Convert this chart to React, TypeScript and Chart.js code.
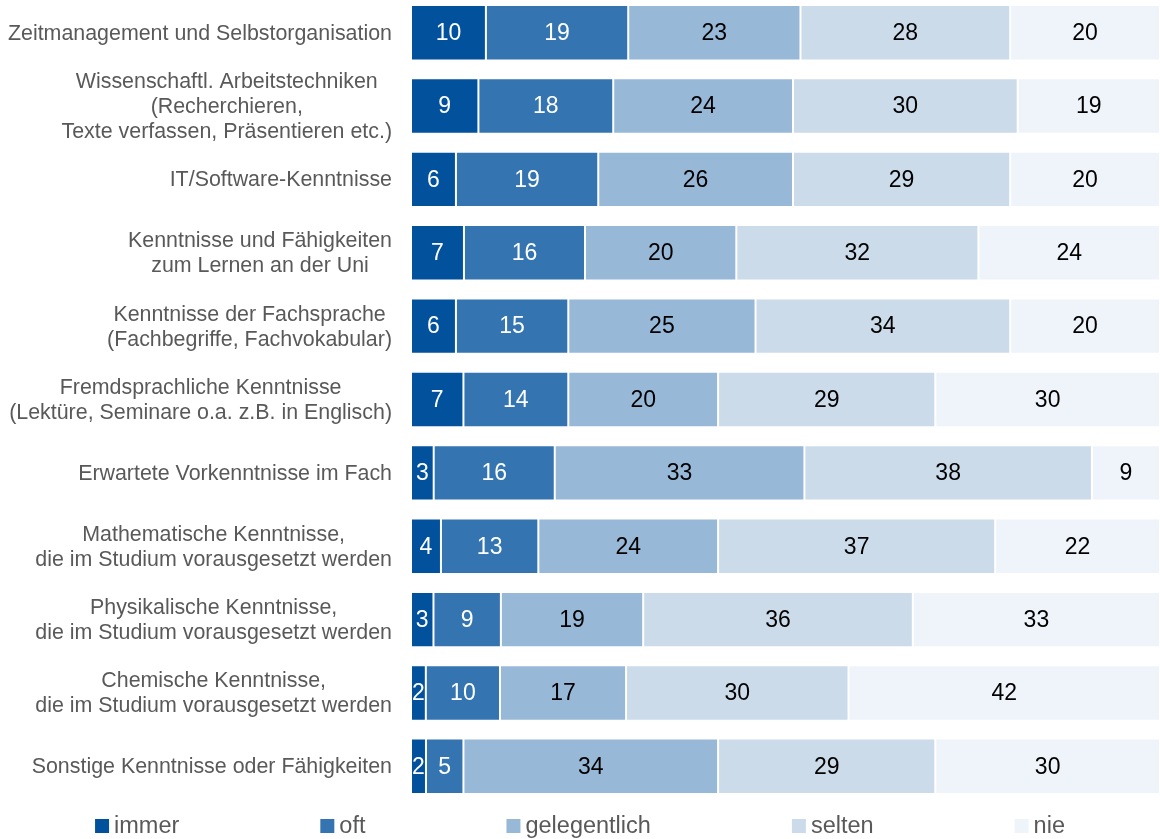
import React, { useEffect, useRef } from 'react';
import { Chart, registerables } from 'chart.js';

Chart.register(...registerables);

const FONT = '"Liberation Sans", Arial, Helvetica, sans-serif';

const categories: string[][] = [
  ['Zeitmanagement und Selbstorganisation'],
  ['Wissenschaftl. Arbeitstechniken', '(Recherchieren,', 'Texte verfassen, Präsentieren etc.)'],
  ['IT/Software-Kenntnisse'],
  ['Kenntnisse und Fähigkeiten', 'zum Lernen an der Uni'],
  ['Kenntnisse der Fachsprache', '(Fachbegriffe, Fachvokabular)'],
  ['Fremdsprachliche Kenntnisse', '(Lektüre, Seminare o.a. z.B. in Englisch)'],
  ['Erwartete Vorkenntnisse im Fach'],
  ['Mathematische Kenntnisse,', 'die im Studium vorausgesetzt werden'],
  ['Physikalische Kenntnisse,', 'die im Studium vorausgesetzt werden'],
  ['Chemische Kenntnisse,', 'die im Studium vorausgesetzt werden'],
  ['Sonstige Kenntnisse oder Fähigkeiten'],
];

const seriesNames = ['immer', 'oft', 'gelegentlich', 'selten', 'nie'];

const immer = [10, 9, 6, 7, 6, 7, 3, 4, 3, 2, 2];
const oft = [19, 18, 19, 16, 15, 14, 16, 13, 9, 10, 5];
const gelegentlich = [23, 24, 26, 20, 25, 20, 33, 24, 19, 17, 34];
const selten = [28, 30, 29, 32, 34, 29, 38, 37, 36, 30, 29];
const nie = [20, 19, 20, 24, 20, 30, 9, 22, 33, 42, 30];

const colors = ['#02519d', '#3474b0', '#98b8d8', '#cbdbea', '#eff4fa'];
const labelColors = ['#ffffff', '#ffffff', '#000000', '#000000', '#000000'];

export default function App() {
  const ref = useRef<HTMLCanvasElement>(null);

  useEffect(() => {
    const series = [immer, oft, gelegentlich, selten, nie];
    const totals = categories.map((_, i) => series.reduce((s, a) => s + a[i], 0));

    const valueLabels = {
      id: 'valueLabels',
      afterDatasetsDraw(chart: any) {
        const ctx = chart.ctx;
        ctx.save();
        ctx.font = `23px ${FONT}`;
        ctx.textAlign = 'center';
        ctx.textBaseline = 'middle';
        chart.data.datasets.forEach((ds: any, k: number) => {
          const meta = chart.getDatasetMeta(k);
          meta.data.forEach((el: any, i: number) => {
            const p = el.getProps(['x', 'y', 'base'], true);
            ctx.fillStyle = labelColors[k];
            ctx.fillText(String(series[k][i]), (p.x + p.base) / 2, p.y + 1);
          });
        });
        ctx.restore();
      },
    };

    const tickLabels = {
      id: 'tickLabels',
      afterDraw(chart: any) {
        const ctx = chart.ctx;
        const yScale = chart.scales.y;
        const rightEdge = yScale.right - 19;
        ctx.save();
        ctx.font = `21.4px ${FONT}`;
        ctx.fillStyle = '#595959';
        ctx.textAlign = 'center';
        ctx.textBaseline = 'middle';
        categories.forEach((lines, i) => {
          const yc = yScale.getPixelForTick(i);
          const maxW = Math.max(...lines.map((l) => ctx.measureText(l).width));
          const cx = rightEdge - maxW / 2;
          lines.forEach((line, j) => {
            ctx.fillText(line, cx, yc + 1 + (j - (lines.length - 1) / 2) * 25);
          });
        });
        ctx.restore();
      },
    };

    const customLegend = {
      id: 'customLegend',
      afterDraw(chart: any) {
        const ctx = chart.ctx;
        ctx.save();
        ctx.font = `23.5px ${FONT}`;
        ctx.textBaseline = 'middle';
        ctx.textAlign = 'left';
        const box = 14;
        const gap = 5;
        const spacing = 141;
        const widths = seriesNames.map((n) => box + gap + ctx.measureText(n).width);
        const total = widths.reduce((a, b) => a + b, 0) + spacing * (seriesNames.length - 1);
        let x = (chart.width - total) / 2;
        const yc = 830;
        seriesNames.forEach((n, k) => {
          ctx.fillStyle = colors[k];
          ctx.fillRect(x, yc - box / 2, box, box);
          ctx.fillStyle = '#595959';
          ctx.fillText(n, x + box + gap, yc + 1);
          x += widths[k] + spacing;
        });
        ctx.restore();
      },
    };

    const chart = new Chart(ref.current as HTMLCanvasElement, {
      type: 'bar',
      data: {
        labels: categories.map((c) => c.join(' ')),
        datasets: seriesNames.map((name, k) => ({
          label: name,
          data: series[k].map((v, i) => (v / totals[i]) * 100),
          backgroundColor: colors[k],
          borderColor: 'rgba(255,255,255,0.6)',
          borderWidth: 1,
          borderSkipped: false,
          categoryPercentage: 1,
          barPercentage: 0.755,
        })),
      },
      options: {
        indexAxis: 'y',
        responsive: false,
        animation: false,
        layout: { padding: { top: 0, left: 0, right: 0, bottom: 36 } },
        plugins: {
          legend: { display: false },
          tooltip: { enabled: false },
        },
        scales: {
          x: { stacked: true, min: 0, max: 100, display: false },
          y: {
            stacked: true,
            grid: { display: false, drawTicks: false },
            border: { display: false },
            ticks: { display: false },
            afterFit: (s: any) => {
              s.width = 411;
            },
          },
        },
      } as any,
      plugins: [valueLabels, tickLabels, customLegend],
    });
    return () => chart.destroy();
  }, []);

  return (
    <div style={{ position: 'absolute', left: 0, top: -4, width: 1160, height: 843, background: '#fff' }}>
      <canvas ref={ref} width={1160} height={843} style={{ display: 'block' }} />
    </div>
  );
}
